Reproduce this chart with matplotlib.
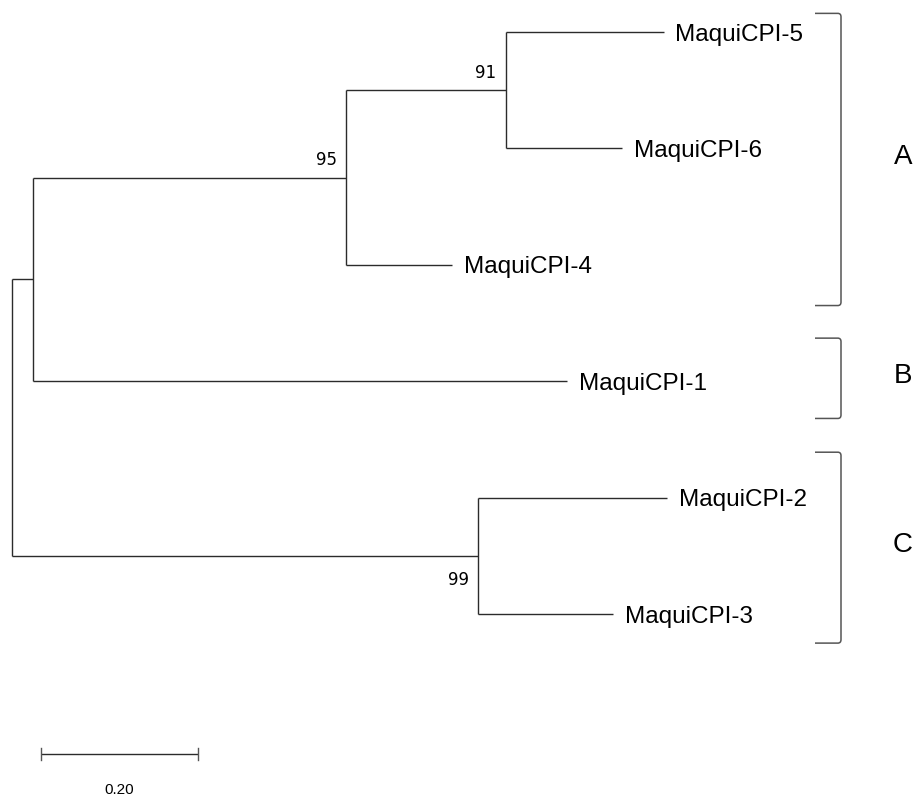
import matplotlib
matplotlib.use("Agg")
from matplotlib import pyplot as plt
from matplotlib.path import Path
from matplotlib.patches import PathPatch

# Leaf order top to bottom
leaves = ["MaquiCPI-5", "MaquiCPI-6", "MaquiCPI-4", "MaquiCPI-1", "MaquiCPI-2", "MaquiCPI-3"]

# Tree: (children, branch length to parent, bootstrap); leaf = (name, branch length)
clade_91 = ([("MaquiCPI-5", 0.201), ("MaquiCPI-6", 0.148)], 0.203, 91)
clade_95 = ([clade_91, ("MaquiCPI-4", 0.135)], 0.399, 95)
clade_ab = ([clade_95, ("MaquiCPI-1", 0.680)], 0.027, None)
clade_99 = ([("MaquiCPI-2", 0.241), ("MaquiCPI-3", 0.172)], 0.594, 99)
tree = ([clade_ab, clade_99], 0.0, None)

# Group brackets: label, top, bottom (in leaf-row units)
groups = ["A", "B", "C"]
group_top = [-0.16, 2.63, 3.61]
group_bottom = [2.35, 3.32, 5.25]

scale_len = 0.20

line_kw = dict(color="#2b2b2b", lw=1.0, solid_capstyle="butt")

fig = plt.figure(figsize=(9.16, 7.98), dpi=100)
ax = fig.add_axes([0, 0, 1, 1])
px = 785.0  # pixels per unit of branch length
ax.set_xlim(-12 / px, 904 / px)
ax.set_ylim((798 - 32) / 116.4, -32 / 116.4)
ax.axis("off")


def draw(node, x0):
    if isinstance(node[0], str):
        name, bl = node
        x1 = x0 + bl
        y = leaves.index(name)
        ax.plot([x0, x1], [y, y], **line_kw)
        ax.text(x1 + 0.015, y, name, fontsize=17.5, family="Liberation Sans",
                ha="left", va="center_baseline")
        return y
    children, bl, boot = node
    x1 = x0 + bl
    ys = [draw(c, x1) for c in children]
    y = (min(ys) + max(ys)) / 2
    ax.plot([x1, x1], [min(ys), max(ys)], **line_kw)
    if bl > 0:
        ax.plot([x0, x1], [y, y], **line_kw)
    if boot is not None:
        if boot == 99:
            ax.annotate(str(boot), (x1, y), xytext=(-7, -11), textcoords="offset points",
                        ha="right", va="top", fontsize=12, family="DejaVu Sans")
        else:
            ax.annotate(str(boot), (x1, y), xytext=(-7, 6), textcoords="offset points",
                        ha="right", va="bottom", fontsize=12, family="DejaVu Sans")
    return y


draw(tree, 0.0)

# brackets
bx = (841 - 12) / px
bl_ = (815 - 12) / px
r = 0.004
for g, t, b in zip(groups, group_top, group_bottom):
    verts = [(bl_, t), (bx - r, t), (bx, t), (bx, t + 0.03),
             (bx, b - 0.03), (bx, b), (bx - r, b), (bl_, b)]
    codes = [Path.MOVETO, Path.LINETO, Path.CURVE3, Path.CURVE3,
             Path.LINETO, Path.CURVE3, Path.CURVE3, Path.LINETO]
    ax.add_patch(PathPatch(Path(verts, codes), fill=False, ec="#555555", lw=1.1))
    yc = (t + b) / 2
    ax.text((903 - 12) / px, yc - 0.02, g, fontsize=20, family="Liberation Sans",
            ha="center", va="center")

# scale bar
sx0 = (41 - 12) / px
sy = (754 - 32) / 116.4
ax.plot([sx0, sx0 + scale_len], [sy, sy], **line_kw)
for xx in [sx0, sx0 + scale_len]:
    ax.plot([xx, xx], [sy - 0.05, sy + 0.05], color="#555555", lw=1.0)
ax.text(sx0 + scale_len / 2, sy + 0.31, f"{scale_len:.2f}", fontsize=11,
        family="Liberation Sans", ha="center", va="center")

fig.savefig("out.png", dpi=100)
